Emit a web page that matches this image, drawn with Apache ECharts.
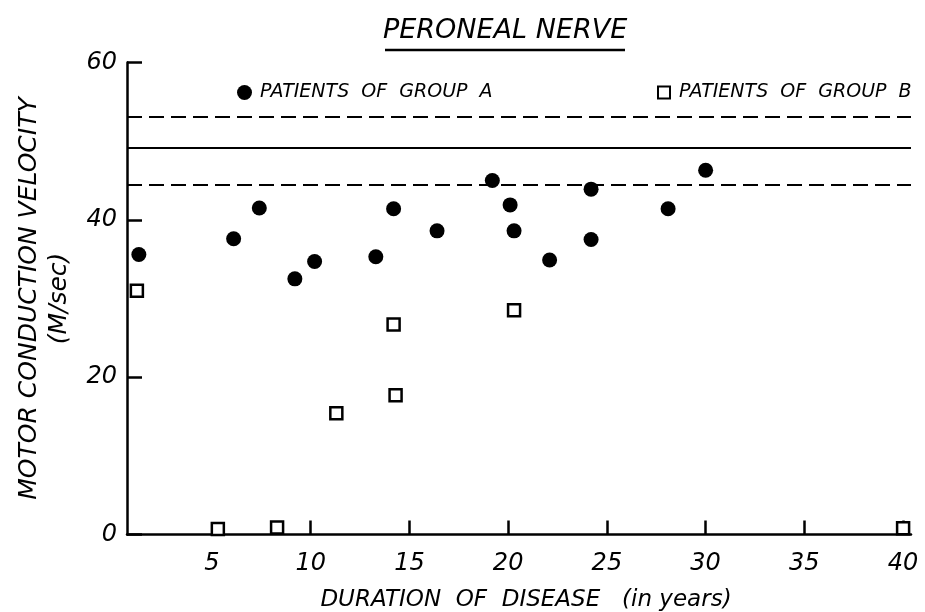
<!DOCTYPE html>
<html><head><meta charset="utf-8">
<script src="https://cdn.jsdelivr.net/npm/echarts@6/dist/echarts.min.js"></script>
<style>html,body{margin:0;padding:0;background:#fff}#c{width:925px;height:612px}</style>
</head><body><div id="c"></div>
<script>
const titleText = 'PERONEAL NERVE';
const seriesNames = ['PATIENTS  OF  GROUP  A', 'PATIENTS  OF  GROUP  B'];
const groupAYears = [1.3, 6.1, 7.4, 9.2, 10.2, 13.3, 14.2, 16.4, 19.2, 20.1, 20.3, 22.1, 24.2, 24.2, 28.1, 30.0];
const groupAVelocity = [35.6, 37.6, 41.5, 32.5, 34.7, 35.3, 41.4, 38.6, 45.0, 41.9, 38.6, 34.9, 37.5, 43.9, 41.4, 46.3];
const groupBYears = [1.2, 5.3, 8.3, 11.3, 14.2, 14.3, 20.3, 40.0];
const groupBVelocity = [31.0, 0.7, 0.9, 15.4, 26.7, 17.7, 28.5, 0.8];
const normalHigh = 53.1;
const normalMean = 49.1;
const normalLow = 44.4;
const xLabelValues = [5, 10, 15, 20, 25, 30, 35, 40];
const xTickValues = [10, 15, 20, 25, 30, 35, 40];
const yTickLabels = [0, 20, 40, 60];

const FONT = 'DejaVu Sans';
const chart = echarts.init(document.getElementById('c'), null, {renderer: 'canvas'});
const dataA = groupAYears.map((x, i) => [x, groupAVelocity[i]]);
const dataB = groupBYears.map((x, i) => [x, groupBVelocity[i]]);

const option = {
  animation: false,
  backgroundColor: '#fff',
  title: {
    text: titleText, left: 383, top: 17, padding: 0,
    textStyle: {fontFamily: FONT, fontStyle: 'italic', fontWeight: 'normal', fontSize: 27, color: '#000'}
  },
  graphic: [{
    type: 'line', shape: {x1: 385, y1: 50, x2: 625, y2: 50},
    style: {stroke: '#000', lineWidth: 2.5}
  }],
  legend: [
    {data: [seriesNames[0]], left: 237, top: 83, padding: 0, itemWidth: 15, itemHeight: 15, itemGap: 0,
     textStyle: {fontFamily: FONT, fontStyle: 'italic', fontSize: 19, color: '#000', padding: [0, 0, 0, 3]}},
    {data: [seriesNames[1]], left: 657, top: 83, padding: 0, itemWidth: 12, itemHeight: 12, itemGap: 0,
     textStyle: {fontFamily: FONT, fontStyle: 'italic', fontSize: 19, color: '#000', padding: [0, 0, 0, 4]}}
  ],
  grid: {left: 127, right: 14, top: 62.5, bottom: 77.5, containLabel: false, outerBoundsMode: 'none'},
  xAxis: {
    type: 'value', min: 0.7, max: 40.4,
    name: 'DURATION  OF  DISEASE   (in years)', nameLocation: 'middle', nameGap: 54,
    nameTextStyle: {fontFamily: FONT, fontStyle: 'italic', fontSize: 23, color: '#000', padding: [0, 0, 0, 14]},
    axisLine: {show: true, lineStyle: {color: '#000', width: 2.5}},
    axisTick: {show: true, inside: true, length: 14, lineStyle: {color: '#000', width: 2.5}, customValues: xTickValues},
    axisLabel: {show: true, margin: 17, customValues: xLabelValues,
      fontFamily: FONT, fontStyle: 'italic', fontSize: 24, color: '#000'},
    splitLine: {show: false}
  },
  yAxis: {
    type: 'value', min: 0, max: 60, interval: 20,
    name: 'MOTOR CONDUCTION VELOCITY\n(M/sec)', nameLocation: 'middle', nameGap: 53,
    nameTextStyle: {fontFamily: FONT, fontStyle: 'italic', fontSize: 25, color: '#000', lineHeight: 30, align: 'center'},
    axisLine: {show: true, lineStyle: {color: '#000', width: 2.5}},
    axisTick: {show: true, inside: true, length: 15, lineStyle: {color: '#000', width: 2.5}},
    axisLabel: {show: true, margin: 10, fontFamily: FONT, fontStyle: 'italic', fontSize: 24, color: '#000'},
    splitLine: {show: false}
  },
  series: [
    {
      name: seriesNames[0], type: 'scatter', symbol: 'circle', symbolSize: 15,
      itemStyle: {color: '#000', opacity: 1}, data: dataA,
      markLine: {
        silent: true, symbol: 'none', label: {show: false},
        lineStyle: {color: '#000', width: 2},
        data: [
          {yAxis: normalHigh, lineStyle: {type: [15, 7], color: '#000', width: 2}},
          {yAxis: normalMean, lineStyle: {type: 'solid', color: '#000', width: 2}},
          {yAxis: normalLow, lineStyle: {type: [15, 7], color: '#000', width: 2}}
        ]
      }
    },
    {
      name: seriesNames[1], type: 'scatter', symbol: 'rect', symbolSize: 12,
      itemStyle: {color: '#fff', borderColor: '#000', borderWidth: 2.5, opacity: 1}, data: dataB
    }
  ]
};
chart.setOption(option);
</script></body></html>
